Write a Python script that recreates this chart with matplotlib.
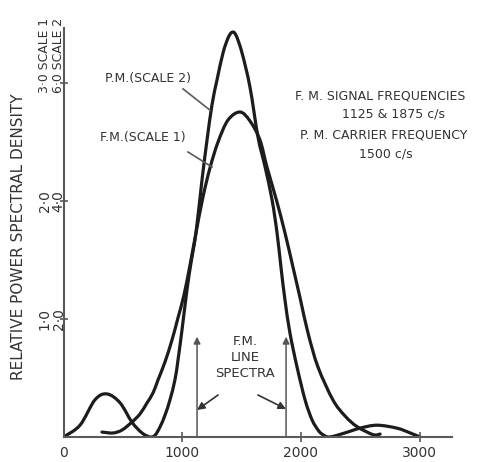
import matplotlib
matplotlib.use("Agg")
import matplotlib.pyplot as plt
from matplotlib.path import Path
from matplotlib.patches import PathPatch

# ---- data ----
# P.M. spectrum, values in SCALE 2 units
pm_freq = [0, 139, 265, 366, 476, 577, 661, 729, 771, 813, 855, 897, 939, 965,
           998, 1040, 1074, 1116, 1167, 1209, 1251, 1293, 1344, 1386, 1420,
           1453, 1504, 1571, 1639, 1698, 1757, 1799, 1832, 1866, 1908, 1967,
           2035, 2094, 2144, 2178, 2240, 2372, 2498, 2641, 2809, 2919, 3004]
pm_density = [0.0, 0.20, 0.63, 0.73, 0.58, 0.25, 0.07, 0.0, 0.03, 0.17, 0.37,
              0.63, 0.97, 1.31, 1.81, 2.49, 2.95, 3.46, 4.36, 5.03, 5.63, 6.05,
              6.51, 6.76, 6.86, 6.81, 6.51, 5.93, 5.08, 4.58, 4.02, 3.46, 2.88,
              2.32, 1.76, 1.19, 0.63, 0.29, 0.12, 0.05, 0.0, 0.07, 0.15, 0.20,
              0.15, 0.07, 0.0]
# F.M. spectrum, values in SCALE 1 units
fm_freq = [324, 417, 493, 577, 644, 703, 754, 796, 855, 914, 964, 1015, 1066,
           1116, 1175, 1234, 1302, 1386, 1487, 1571, 1655, 1714, 1794, 1866,
           1933, 1997, 2060, 2144, 2270, 2372, 2473, 2608, 2667]
fm_density = [0.042, 0.034, 0.059, 0.127, 0.195, 0.288, 0.373, 0.483, 0.636,
              0.822, 1.008, 1.203, 1.458, 1.729, 2.034, 2.280, 2.500, 2.686,
              2.754, 2.678, 2.517, 2.288, 2.008, 1.729, 1.441, 1.161, 0.881,
              0.593, 0.314, 0.178, 0.088, 0.020, 0.025]
line_spectra = [1125, 1875]
line_height = 0.85

x_ticks = [0, 1000, 2000, 3000]
x_tick_labels = ["0", "1000", "2000", "3000"]
y_ticks = [1, 2, 3]
y_tick_labels = ["1·0\n2·0", "2·0\n4·0"]
top_label = "3·0 SCALE 1\n6·0 SCALE 2"
y_label = "RELATIVE POWER SPECTRAL DENSITY"

W, H = 478, 462
fig = plt.figure(figsize=(W / 100, H / 100), dpi=100)
ax = fig.add_axes([63.5 / W, 25 / H, 388.5 / W, 409 / H])
ax.set_xlim(0, 3273)
ax.set_ylim(0, 3.466)

curve_c = "#1c1c1c"
text_c = "#333333"
axis_c = "#5a5a5a"


def smooth_curve(xs, ys, **kw):
    """Catmull-Rom curve through the points, drawn as a Bezier path."""
    pts = list(zip(xs, ys))
    n = len(pts)
    verts = [pts[0]]
    codes = [Path.MOVETO]
    for i in range(n - 1):
        p0 = pts[max(i - 1, 0)]
        p1 = pts[i]
        p2 = pts[i + 1]
        p3 = pts[min(i + 2, n - 1)]
        c1 = (p1[0] + (p2[0] - p0[0]) / 6, p1[1] + (p2[1] - p0[1]) / 6)
        c2 = (p2[0] - (p3[0] - p1[0]) / 6, p2[1] - (p3[1] - p1[1]) / 6)
        verts += [c1, c2, p2]
        codes += [Path.CURVE4] * 3
    patch = PathPatch(Path(verts, codes), fill=False, **kw)
    ax.add_patch(patch)


smooth_curve(pm_freq, [v / 2 for v in pm_density], edgecolor=curve_c, lw=2.3,
             joinstyle="round", capstyle="round")
smooth_curve(fm_freq, fm_density, edgecolor=curve_c, lw=2.3,
             joinstyle="round", capstyle="round")

for s in ["top", "right"]:
    ax.spines[s].set_visible(False)
for s in ["left", "bottom"]:
    ax.spines[s].set_color(axis_c)
    ax.spines[s].set_linewidth(1.5)

ax.set_xticks(x_ticks)
ax.set_xticklabels(x_tick_labels, fontsize=10, color=text_c)
ax.set_yticks(y_ticks)
ax.set_yticklabels([""] * len(y_ticks))
ax.tick_params(axis="x", direction="inout", length=7, width=1.2, color=axis_c, pad=3)
ax.tick_params(axis="y", direction="inout", length=6, width=1.2, color=axis_c)
ax.get_xticklines()[0].set_visible(False)
ax.get_xticklines()[1].set_visible(False)

lab_x = (51.5 - 63.5) / 388.5
for yv, lab in zip(y_ticks, y_tick_labels):
    ax.text(lab_x, yv, lab, transform=ax.get_yaxis_transform(), rotation=90,
            fontsize=10, color=text_c, ha="center", va="center", linespacing=1.0)

ax.text(lab_x, 2.915, top_label, transform=ax.get_yaxis_transform(),
        rotation=90, fontsize=8.9, color=text_c, ha="center", va="bottom",
        multialignment="left", linespacing=1.05)

fig.text(19 / W, 1 - 237 / H, y_label, rotation=90, fontsize=11,
         color=text_c, ha="center", va="center")

fs = 9
ax.text(712, 3.04, "P.M.(SCALE 2)", fontsize=fs, color=text_c, ha="center", va="center")
ax.plot([1007, 1234], [2.95, 2.77], color=axis_c, lw=1.2)
ax.text(670, 2.54, "F.M.(SCALE 1)", fontsize=fs, color=text_c, ha="center", va="center")
ax.plot([1049, 1251], [2.415, 2.288], color=axis_c, lw=1.2)

ax.text(2667, 2.89, "F. M. SIGNAL FREQUENCIES", fontsize=fs, color=text_c, ha="center", va="center")
ax.text(2784, 2.74, "1125 & 1875 c/s", fontsize=fs, color=text_c, ha="center", va="center")
ax.text(2700, 2.56, "P. M. CARRIER FREQUENCY", fontsize=fs, color=text_c, ha="center", va="center")
ax.text(2717, 2.40, "1500 c/s", fontsize=fs, color=text_c, ha="center", va="center")

for f in line_spectra:
    ax.annotate("", xy=(f, line_height), xytext=(f, 0),
                arrowprops=dict(arrowstyle="-|>", color="#555555", lw=1.1,
                                mutation_scale=10, shrinkA=0, shrinkB=0))
ax.text(1530, 0.67, "F.M.\nLINE\nSPECTRA", fontsize=9.5, color=text_c,
        ha="center", va="center", linespacing=1.3)
ax.annotate("", xy=(line_spectra[0], 0.229), xytext=(1302, 0.356),
            arrowprops=dict(arrowstyle="-|>", color="#333333", lw=1.2,
                            mutation_scale=11, shrinkA=0, shrinkB=0))
ax.annotate("", xy=(line_spectra[1], 0.237), xytext=(1638, 0.356),
            arrowprops=dict(arrowstyle="-|>", color="#333333", lw=1.2,
                            mutation_scale=11, shrinkA=0, shrinkB=0))

fig.savefig("out.png", dpi=100, facecolor="white")
